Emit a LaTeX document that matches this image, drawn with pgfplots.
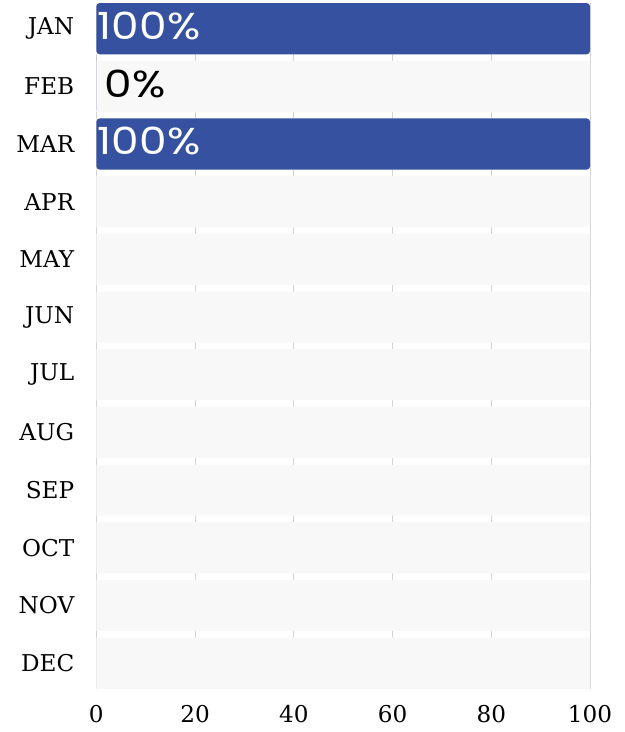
\documentclass[border=0pt]{standalone}
\usepackage{pgfplots}
\pgfplotsset{compat=1.18}
\usepackage{pgfplotstable}
\usepackage{fontspec}
\setmainfont{DejaVu Serif}
\newfontfamily\pop[FakeStretch=1.17]{Poppins}
\definecolor{barblue}{HTML}{3551A0}
\definecolor{bggray}{HTML}{F8F8F8}
\definecolor{gridgray}{HTML}{D4D4D4}

\pgfplotstableread{
y bg
0 100
1 100
2 100
3 100
4 100
5 100
6 100
7 100
8 100
9 100
10 100
11 100
}\bgdata

\pgfplotstableread{
y val
0 100
1 0
2 100
}\valdata

\begin{document}
\begin{tikzpicture}
\begin{axis}[
  scale only axis,
  width=369pt, height=512.6pt,
  xmin=0, xmax=100,
  ymin=-0.445, ymax=11.445,
  y dir=reverse,
  axis line style={draw=none},
  xtick={0,20,40,60,80,100},
  ytick={0,1,2,3,4,5,6,7,8,9,10,11},
  yticklabels={JAN,FEB,MAR,APR,MAY,JUN,JUL,AUG,SEP,OCT,NOV,DEC},
  major tick length=0pt,
  xmajorgrids, ymajorgrids=false,
  major grid style={gridgray, line width=0.75pt},
  tick label style={font=\fontsize{17.3}{20}\selectfont},
  /pgf/number format/assume math mode=true,
  yticklabel style={anchor=east, xshift=-13pt},
  xticklabel style={anchor=north, yshift=-8.5pt},
  bar width=0.887,
  clip=false,
]
\addplot[xbar, bar shift=0pt, fill=bggray, draw=none] table[x=bg, y=y]{\bgdata};
\addplot[xbar, bar shift=0pt, fill=barblue, draw=none, rounded corners=2.5pt] table[x=val, y=y]{\valdata};
\addplot[draw=none, mark=none, point meta=explicit,
  nodes near coords={\pgfmathprintnumber{\pgfplotspointmeta}\%},
  nodes near coords style={anchor=west, inner sep=0pt, xshift=1pt, yshift=2pt,
    font=\pop\fontsize{28}{32}\selectfont, text=white}]
  table[x expr=0, y=y, meta=val]{
y val
0 100
2 100
};
\addplot[draw=none, mark=none, point meta=explicit,
  nodes near coords={\pgfmathprintnumber{\pgfplotspointmeta}\%},
  nodes near coords style={anchor=west, inner sep=0pt, xshift=6pt, yshift=2pt,
    font=\pop\fontsize{28}{32}\selectfont, text=black}]
  table[x expr=0, y=y, meta=val]{
y val
1 0
};
\end{axis}
\pgfresetboundingbox
\path (current axis.south west)+(-72pt,-32.25pt) coordinate (bbA);
\path (current axis.north east)+(25.5pt,2.25pt) coordinate (bbB);
\useasboundingbox (bbA) rectangle (bbB);
\end{tikzpicture}
\end{document}
